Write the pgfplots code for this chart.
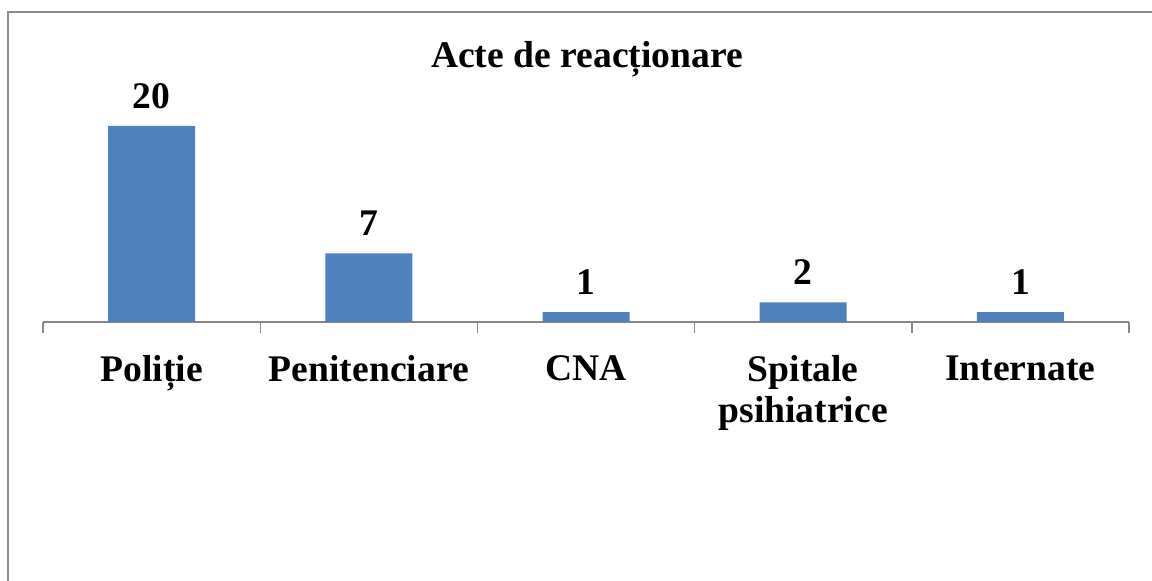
\documentclass[border=0pt]{standalone}
\usepackage{pgfplots}
\pgfplotsset{compat=1.18}
\usepackage{fontspec}
\setmainfont{Liberation Serif}
\definecolor{barblue}{HTML}{4F81BD}
\definecolor{axgray}{HTML}{868686}
\definecolor{framegray}{HTML}{8C8C8C}
\begin{document}
\begin{tikzpicture}
\useasboundingbox[fill=white] (0,0) rectangle (576pt,290.5pt);
\draw[framegray, line width=1pt] (4pt,0) -- (4pt,284.5pt) -- (576pt,284.5pt);
\node[anchor=base, font=\fontsize{18.8}{20.5}\selectfont\bfseries, inner sep=0pt] at (293.5pt,256.5pt) {Acte de reacționare};
\begin{axis}[
  at={(21.5pt,129.5pt)}, anchor=south west,
  scale only axis, width=543pt, height=98pt,
  xmin=-0.5, xmax=4.5, ymin=0, ymax=20,
  axis y line=none, axis x line*=bottom,
  x axis line style={axgray, line width=0.7pt, -},
  ybar, bar width=43.5pt,
  xtick={0,1,2,3,4},
  xticklabels={Poliție,Penitenciare,CNA,{Spitale\\psihiatrice},Internate},
  minor xtick={-0.5,0.5,1.5,2.5,3.5,4.5},
  major tick length=0pt, minor tick length=5.5pt,
  tick align=outside,
  minor tick style={axgray, line width=0.7pt},
  xticklabel style={anchor=north, inner sep=0pt, yshift=-16.5pt, align=center, font=\fontsize{18.8}{20.5}\selectfont\bfseries},
  /pgf/number format/assume math mode=true,
  nodes near coords,
  every node near coord/.append style={font=\fontsize{18.8}{20.5}\selectfont\bfseries, inner sep=0pt, yshift=8.5pt, black},
  clip=false,
]
\addplot[fill=barblue, draw=none] coordinates {(0,20) (1,7) (2,1) (3,2) (4,1)};
\end{axis}
\end{tikzpicture}
\end{document}
